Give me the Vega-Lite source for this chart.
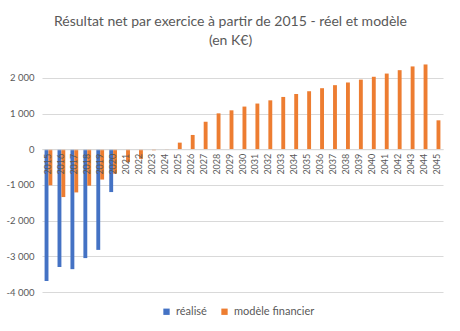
{
  "$schema": "https://vega.github.io/schema/vega-lite/v6.json",
  "autosize": {"type": "none"},
  "width": 401,
  "height": 232,
  "padding": {"left": 42, "top": 60, "right": 17, "bottom": 39},
  "background": "#ffffff",
  "title": {
    "text": ["Résultat net par exercice à partir de 2015 - réel et modèle", "(en K€)"],
    "font": "Lato",
    "fontSize": 14,
    "fontWeight": "normal",
    "color": "#595959",
    "anchor": "middle",
    "frame": "group",
    "dx": -12,
    "offset": 12,
    "lineHeight": 19
  },
  "data": {
    "values": [
      {"year": "2015", "serie": "réalisé", "value": -3690},
      {"year": "2016", "serie": "réalisé", "value": -3300},
      {"year": "2017", "serie": "réalisé", "value": -3360},
      {"year": "2018", "serie": "réalisé", "value": -3050},
      {"year": "2019", "serie": "réalisé", "value": -2820},
      {"year": "2020", "serie": "réalisé", "value": -1200},
      {"year": "2015", "serie": "modèle financier", "value": -1010},
      {"year": "2016", "serie": "modèle financier", "value": -1340},
      {"year": "2017", "serie": "modèle financier", "value": -1210},
      {"year": "2018", "serie": "modèle financier", "value": -1020},
      {"year": "2019", "serie": "modèle financier", "value": -850},
      {"year": "2020", "serie": "modèle financier", "value": -685},
      {"year": "2021", "serie": "modèle financier", "value": -360},
      {"year": "2022", "serie": "modèle financier", "value": -270},
      {"year": "2023", "serie": "modèle financier", "value": -30},
      {"year": "2024", "serie": "modèle financier", "value": -10},
      {"year": "2025", "serie": "modèle financier", "value": 185},
      {"year": "2026", "serie": "modèle financier", "value": 400},
      {"year": "2027", "serie": "modèle financier", "value": 770},
      {"year": "2028", "serie": "modèle financier", "value": 1005},
      {"year": "2029", "serie": "modèle financier", "value": 1090},
      {"year": "2030", "serie": "modèle financier", "value": 1195},
      {"year": "2031", "serie": "modèle financier", "value": 1280},
      {"year": "2032", "serie": "modèle financier", "value": 1370},
      {"year": "2033", "serie": "modèle financier", "value": 1465},
      {"year": "2034", "serie": "modèle financier", "value": 1545},
      {"year": "2035", "serie": "modèle financier", "value": 1625},
      {"year": "2036", "serie": "modèle financier", "value": 1710},
      {"year": "2037", "serie": "modèle financier", "value": 1795},
      {"year": "2038", "serie": "modèle financier", "value": 1870},
      {"year": "2039", "serie": "modèle financier", "value": 1950},
      {"year": "2040", "serie": "modèle financier", "value": 2030},
      {"year": "2041", "serie": "modèle financier", "value": 2120},
      {"year": "2042", "serie": "modèle financier", "value": 2215},
      {"year": "2043", "serie": "modèle financier", "value": 2320},
      {"year": "2044", "serie": "modèle financier", "value": 2375},
      {"year": "2045", "serie": "modèle financier", "value": 810}
    ]
  },
  "mark": {"type": "bar"},
  "encoding": {
    "x": {
      "field": "year",
      "type": "nominal",
      "sort": null,
      "scale": {"paddingInner": 0.4, "paddingOuter": 0.2},
      "axis": {
        "title": null,
        "labelAngle": -90,
        "ticks": false,
        "grid": false,
        "domainColor": "#D9D9D9",
        "offset": {"expr": "scale('y', 0) - height"},
        "zindex": 1,
        "labelPadding": 4,
        "labelFont": "Lato",
        "labelFontSize": 9,
        "labelColor": "#595959"
      }
    },
    "xOffset": {
      "field": "serie",
      "type": "nominal",
      "sort": ["réalisé", "modèle financier"],
      "scale": {"domain": ["réalisé", "modèle financier"], "paddingInner": 0}
    },
    "y": {
      "field": "value",
      "type": "quantitative",
      "scale": {"domain": [-4000, 2500], "nice": false},
      "axis": {
        "title": null,
        "values": [-4000, -3000, -2000, -1000, 0, 1000, 2000],
        "labelExpr": "replace(replace(format(datum.value, ','), ',', ' '), '\u2212', '-')",
        "domain": false,
        "ticks": false,
        "grid": true,
        "gridColor": "#D9D9D9",
        "labelPadding": 8,
        "labelFont": "Lato",
        "labelFontSize": 9.5,
        "labelColor": "#595959"
      }
    },
    "color": {
      "field": "serie",
      "type": "nominal",
      "scale": {"domain": ["réalisé", "modèle financier"], "range": ["#4472C4", "#ED7D31"]},
      "legend": {
        "title": null,
        "orient": "none",
        "legendX": 119,
        "legendY": 246,
        "direction": "horizontal",
        "symbolType": "square",
        "symbolSize": 40,
        "symbolStrokeWidth": 0,
        "columnPadding": 12,
        "labelFont": "Lato",
        "labelFontSize": 11,
        "labelColor": "#595959"
      }
    }
  },
  "config": {
    "view": {"stroke": null}
  }
}
